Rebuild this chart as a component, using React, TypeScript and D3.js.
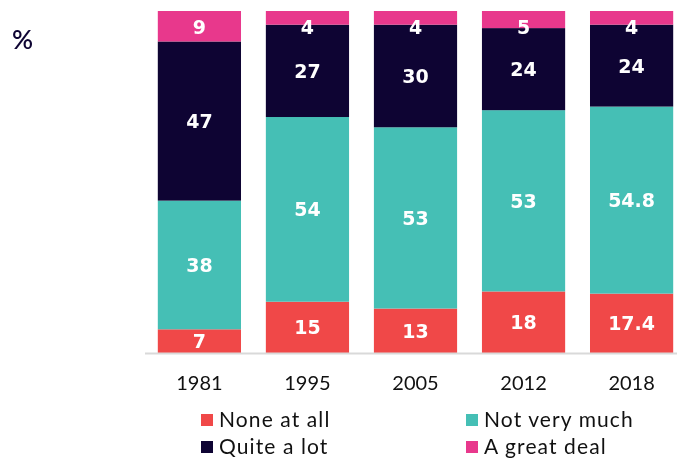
import { useEffect, useRef } from "react";
import * as d3 from "d3";

// Chart data
const years = ["1981", "1995", "2005", "2012", "2018"];
const noneAtAll = [7, 15, 13, 18, 17.4];
const notVeryMuch = [38, 54, 53, 53, 54.8];
const quiteALot = [47, 27, 30, 24, 24];
const aGreatDeal = [9, 4, 4, 5, 4];

const seriesNames = ["None at all", "Not very much", "Quite a lot", "A great deal"];
const seriesColors = ["#F04848", "#45BFB5", "#0E0433", "#E8388C"];

const FONT = "Lato, 'Open Sans', sans-serif";
const VALUE_FONT = "'DejaVu Sans', sans-serif";

export default function App() {
    const svgRef = useRef<SVGSVGElement | null>(null);

    const width = 677;
    const height = 460;

    useEffect(() => {
        const svgEl = svgRef.current;
        if (!svgEl) return;
        const root = d3.select(svgEl);
        root.selectAll("*").remove();

        const rows = years.map((year, i) => ({
            year,
            s0: noneAtAll[i],
            s1: notVeryMuch[i],
            s2: quiteALot[i],
            s3: aGreatDeal[i],
        }));
        const keys = ["s0", "s1", "s2", "s3"];
        // every bar fills the full height (shares of the total)
        const stacked = d3.stack<any>().keys(keys).offset(d3.stackOffsetExpand)(rows);

        const x = d3
            .scaleBand()
            .domain(years)
            .range([147, 684])
            .paddingInner(0.23)
            .paddingOuter(0.1);

        const y = d3.scaleLinear().domain([0, 1]).range([353, 11]);

        // Bars
        stacked.forEach((layer, k) => {
            const g = root.append("g");
            g.selectAll("rect")
                .data(layer)
                .join("rect")
                .attr("x", (d: any) => x(d.data.year)!)
                .attr("width", x.bandwidth())
                .attr("y", (d: any) => y(d[1]))
                .attr("height", (d: any) => y(d[0]) - y(d[1]))
                .attr("fill", seriesColors[k]);

            g.selectAll("text")
                .data(layer)
                .join("text")
                .attr("x", (d: any) => x(d.data.year)! + x.bandwidth() / 2)
                .attr("y", (d: any) => {
                    const mid = (y(d[0]) + y(d[1])) / 2;
                    const c = k === 3 ? Math.max(mid, y(d[1]) + 16) : mid;
                    return c + 7;
                })
                .attr("text-anchor", "middle")
                .attr("fill", "#fff")
                .attr("font-family", VALUE_FONT)
                .attr("font-weight", 700)
                .attr("font-size", 19)
                .text((d: any) => String(d.data[keys[k]]));
        });

        // Baseline
        root.append("line")
            .attr("x1", 145)
            .attr("x2", width)
            .attr("y1", y(0) + 0.5)
            .attr("y2", y(0) + 0.5)
            .attr("stroke", "#d9d9d9")
            .attr("stroke-width", 2);

        // X axis labels
        root.append("g")
            .selectAll("text")
            .data(years)
            .join("text")
            .attr("x", (d) => x(d)! + x.bandwidth() / 2)
            .attr("y", 390)
            .attr("text-anchor", "middle")
            .attr("fill", "#111")
            .attr("font-family", FONT)
            .attr("font-size", 20)
            .text((d) => d);

        // Unit label
        root.append("text")
            .attr("x", 12)
            .attr("y", 49)
            .attr("fill", "#0E0433")
            .attr("font-family", FONT)
            .attr("font-weight", 600)
            .attr("font-size", 26)
            .text("%");

        // Legend
        const legend = root.append("g");
        seriesNames.forEach((name, i) => {
            const col = i % 2;
            const row = Math.floor(i / 2);
            const lx = 201 + col * 265;
            const ly = 414 + row * 27;
            legend.append("rect")
                .attr("x", lx)
                .attr("y", ly)
                .attr("width", 12)
                .attr("height", 12)
                .attr("fill", seriesColors[i]);
            legend.append("text")
                .attr("x", lx + 18)
                .attr("y", ly + 13)
                .attr("fill", "#111")
                .attr("font-family", FONT)
                .attr("font-size", 21)
                .attr("letter-spacing", 1.1)
                .text(name);
        });
    }, []);

    return (
        <div style={{ position: "fixed", left: 0, top: 0 }}>
            <svg ref={svgRef} width={width} height={height} style={{ display: "block" }} />
        </div>
    );
}
